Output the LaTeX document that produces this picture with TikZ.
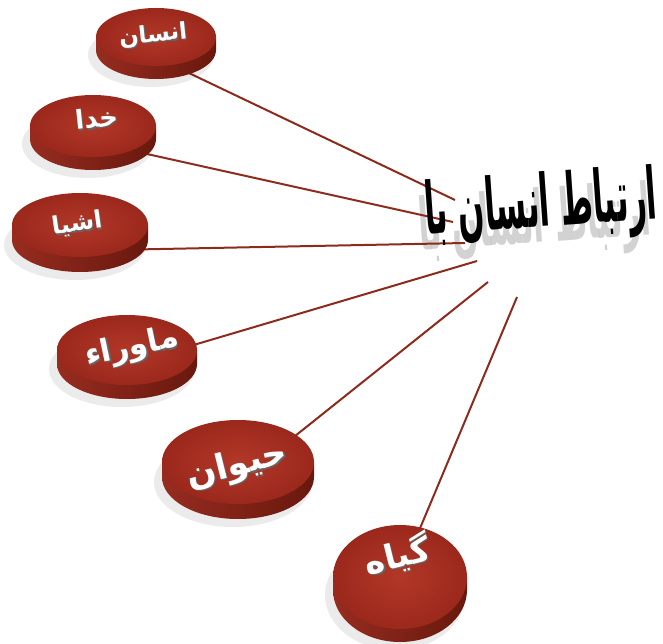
\documentclass[tikz,border=0pt]{standalone}
\usepackage{fontspec}
\TeXXeTstate=1
\newfontfamily\arabicfont[Script=Arabic]{DejaVu Sans}
\usetikzlibrary{shapes.geometric}
\definecolor{disclight}{RGB}{178,56,40}
\definecolor{discedge}{RGB}{155,40,28}
\definecolor{sideL}{RGB}{150,44,32}
\definecolor{sideR}{RGB}{105,24,14}
\definecolor{linkred}{RGB}{140,42,28}
\tikzset{
  link/.style={draw=linkred, line width=2pt},
  discface/.style={ellipse, inner sep=0pt, shade, inner color=disclight, outer color=discedge},
  disctext/.style={text=white, inner sep=0pt},
  discshadowtext/.style={text=black!60, inner sep=0pt},
  titlefont/.style={rotate=4, xscale=0.43, inner sep=0pt,
      font=\arabicfont\bfseries\fontsize{72}{80}\selectfont},
}
\newcommand{\mydisc}[6]{%
  \fill[black, opacity=0.08] (#2-5,#3+#6+5) ellipse[x radius=#4+3, y radius=#5+3];
  \shade[left color=sideL, right color=sideR] (#2-#4,#3) -- (#2-#4,#3+#6)
     arc[start angle=180, end angle=0, x radius=#4, y radius=#5] -- (#2+#4,#3) -- cycle;
  \node[discface, minimum width=2*#4, minimum height=2*#5] (#1) at (#2,#3) {};
}
\newcommand{\disclabel}[6]{%
  \node[discshadowtext, rotate=#5, font=\arabicfont\bfseries\fontsize{#4}{#4}\selectfont] at (#2+1.2,#3+1.5) {\beginR #6\endR};
  \node[disctext, rotate=#5, font=\arabicfont\bfseries\fontsize{#4}{#4}\selectfont] (#1) at (#2,#3) {\beginR #6\endR};
}
\begin{document}
\begin{tikzpicture}[x=1pt, y=-1pt]
\useasboundingbox (0,0) rectangle (663,644);
% connector coordinates
\coordinate (s1) at (170,64);  \coordinate (e1) at (455,200);
\coordinate (s2) at (120,148); \coordinate (e2) at (453,222);
\coordinate (s3) at (110,250); \coordinate (e3) at (465,243);
\coordinate (s4) at (170,352); \coordinate (e4) at (477,261);
\coordinate (s5) at (270,456); \coordinate (e5) at (488,282);
\coordinate (s6) at (413,545); \coordinate (e6) at (517,297);
% title shadow and title
\node[titlefont, text=black!22, opacity=0.8] at (535,224) {\beginR ارتباط انسان با\endR};
\foreach \i in {1,...,6} { \draw[link] (s\i) -- (e\i); }
\node[titlefont, text=black] (title) at (541,208) {\beginR ارتباط انسان با\endR};
% discs
\mydisc{d1}{156}{37}{60}{29}{13}
\mydisc{d2}{93}{126}{63}{31}{13}
\mydisc{d3}{80}{225}{68}{32}{15}
\mydisc{d4}{127}{350}{70}{35}{14}
\mydisc{d5}{238}{462}{76}{42}{15}
\mydisc{d6}{400}{577}{67}{52}{13}
% labels
\disclabel{t1}{153}{35}{23}{6}{انسان}
\disclabel{t2}{97}{118}{26}{6}{خدا}
\disclabel{t3}{77}{224}{24}{8}{اشیا}
\disclabel{t4}{132}{348}{31}{12}{ماوراء}
\disclabel{t5}{237}{466}{35}{14}{حیوان}
\disclabel{t6}{397}{555}{34}{14}{گیاه}
\end{tikzpicture}
\end{document}
